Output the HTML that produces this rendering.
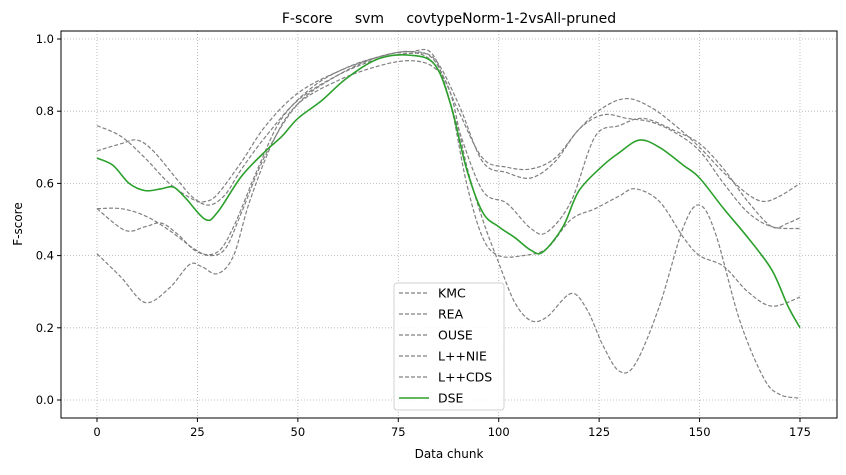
<!DOCTYPE html>
<html><head><meta charset="utf-8"><style>
body{margin:0;background:#fff;font-family:"Liberation Sans","DejaVu Sans",sans-serif}
svg text{font-family:"DejaVu Sans","Liberation Sans",sans-serif}
</style></head><body>
<svg id="c" width="846" height="470" xmlns="http://www.w3.org/2000/svg"></svg>
<script>
const xTicks=[0,25,50,75,100,125,150,175];
const yTicks=[0.0,0.2,0.4,0.6,0.8,1.0];
const seriesNames=["KMC","REA","OUSE","L++NIE","L++CDS","DSE"];
const kmcX=[0,6,12,18,24,27,30,36,42,50,60,70,78,84,90,96,102,108,114,120,126,132,138,144,150,156,162,166,170,175];
const kmcY=[0.76,0.73,0.67,0.60,0.555,0.55,0.57,0.66,0.76,0.85,0.91,0.95,0.965,0.94,0.80,0.67,0.645,0.64,0.67,0.75,0.81,0.835,0.81,0.76,0.70,0.63,0.57,0.55,0.565,0.60];
const reaX=[0,6,10,14,20,24,28,32,36,42,50,60,70,78,84,90,96,102,108,114,120,126,132,138,144,150,156,162,168,175];
const reaY=[0.69,0.71,0.72,0.69,0.61,0.56,0.54,0.57,0.64,0.73,0.83,0.90,0.945,0.96,0.945,0.82,0.66,0.63,0.615,0.66,0.75,0.79,0.78,0.77,0.74,0.69,0.60,0.52,0.48,0.475];
const ouseX=[0,6,12,18,24,28,32,36,42,50,60,70,78,84,90,96,102,108,112,118,124,130,136,144,150,156,162,168,172,175];
const ouseY=[0.53,0.53,0.51,0.47,0.42,0.40,0.42,0.52,0.68,0.82,0.90,0.95,0.965,0.95,0.75,0.58,0.545,0.475,0.465,0.55,0.73,0.76,0.78,0.745,0.71,0.64,0.55,0.48,0.49,0.505];
const nieX=[0,7,12,16,20,25,30,34,40,46,54,62,70,78,84,88,92,96,100,106,112,118,124,130,134,140,146,150,156,162,168,175];
const nieY=[0.53,0.47,0.48,0.49,0.46,0.41,0.41,0.48,0.64,0.78,0.87,0.92,0.95,0.965,0.93,0.82,0.60,0.45,0.40,0.40,0.42,0.50,0.53,0.565,0.585,0.55,0.45,0.40,0.37,0.30,0.26,0.285];
const cdsX=[0,6,12,18,23,26,30,34,38,44,50,60,70,78,84,88,92,96,100,104,108,112,118,122,126,130,134,140,146,150,154,160,166,170,175];
const cdsY=[0.405,0.34,0.27,0.31,0.375,0.37,0.35,0.40,0.55,0.72,0.82,0.885,0.925,0.94,0.92,0.85,0.65,0.50,0.38,0.27,0.22,0.23,0.295,0.25,0.15,0.08,0.10,0.26,0.48,0.54,0.46,0.22,0.06,0.015,0.005];
const dseX=[0,4,8,12,16,19,22,27,30,36,42,46,50,56,62,70,78,84,88,92,96,100,104,108,111,116,120,126,130,135,140,146,150,156,162,168,172,175];
const dseY=[0.67,0.65,0.60,0.58,0.585,0.59,0.56,0.50,0.52,0.62,0.69,0.73,0.78,0.83,0.89,0.945,0.955,0.93,0.82,0.64,0.52,0.48,0.45,0.415,0.41,0.48,0.58,0.65,0.685,0.72,0.70,0.65,0.615,0.53,0.45,0.36,0.26,0.20];

const NS="http://www.w3.org/2000/svg",svg=document.getElementById('c');
const L=61,R=837,T=31,B=418;
const sx=v=>97+v*(703/175);
const sy=v=>400-v*361;
function mk(tag,at,parent){const e=document.createElementNS(NS,tag);for(const k in at)e.setAttribute(k,at[k]);(parent||svg).appendChild(e);return e;}
function path(xs,ys){const p=xs.map((x,i)=>[sx(x),sy(ys[i])]);let d=`M${p[0][0]},${p[0][1]}`;
for(let i=0;i<p.length-1;i++){const p0=p[Math.max(0,i-1)],p1=p[i],p2=p[i+1],p3=p[Math.min(p.length-1,i+2)];
const c1=[p1[0]+(p2[0]-p0[0])/6,p1[1]+(p2[1]-p0[1])/6],c2=[p2[0]-(p3[0]-p1[0])/6,p2[1]-(p3[1]-p1[1])/6];
d+=`C${c1[0]},${c1[1]} ${c2[0]},${c2[1]} ${p2[0]},${p2[1]}`;}return d;}
xTicks.forEach(v=>{const g=mk('line',{x1:sx(v),x2:sx(v),y1:T,y2:B,stroke:'#b0b0b0','stroke-width':0.8,'stroke-dasharray':'1,2'});

const t=mk('line',{x1:sx(v),x2:sx(v),y1:B,y2:B+4,stroke:'#000'});
const l=mk('text',{x:sx(v),y:B+18,'font-size':11.5,'text-anchor':'middle'});l.textContent=v;
});
yTicks.forEach(v=>{const g=mk('line',{x1:L,x2:R,y1:sy(v),y2:sy(v),stroke:'#b0b0b0','stroke-width':0.8,'stroke-dasharray':'1,2'});

const t=mk('line',{x1:L-4,x2:L,y1:sy(v),y2:sy(v),stroke:'#000'});
const l=mk('text',{x:L-7,y:sy(v)+4,'font-size':11.5,'text-anchor':'end'});l.textContent=v.toFixed(1);
});
const gx=[kmcX,reaX,ouseX,nieX,cdsX],gy=[kmcY,reaY,ouseY,nieY,cdsY];
gx.forEach((xs,i)=>{const p=mk('path',{d:path(xs,gy[i]),fill:'none',stroke:'#808080','stroke-width':1.2,'stroke-dasharray':'4,2'});
});
const dp=mk('path',{d:path(dseX,dseY),fill:'none',stroke:'#2ca02c','stroke-width':1.6});

const fr=mk('rect',{x:L,y:T,width:R-L,height:B-T,fill:'none',stroke:'#000','stroke-width':1});

const lg=mk('g',{});
mk('rect',{x:394,y:283,width:110,height:127,rx:3,fill:'#fff','fill-opacity':0.85,stroke:'#d0d0d0'},lg);
seriesNames.forEach((n,i)=>{const y=293+i*21;const e=mk('g',{},lg);

const dse=i===5;mk('line',{x1:399,x2:429,y1:y,y2:y,stroke:dse?'#2ca02c':'#808080','stroke-width':dse?1.6:1.2,'stroke-dasharray':dse?'none':'4,2'},e);
const t=mk('text',{x:438,y:y+4.5,'font-size':12.5},e);t.textContent=n;});
const tt=mk('text',{x:449,y:23,'font-size':14,'text-anchor':'middle'});tt.textContent='F-score\u00a0\u00a0\u00a0\u00a0\u00a0svm\u00a0\u00a0\u00a0\u00a0\u00a0covtypeNorm-1-2vsAll-pruned';

const xl=mk('text',{x:449,y:458,'font-size':12,'text-anchor':'middle'});xl.textContent='Data chunk';

const yl=mk('text',{x:22,y:224,'font-size':12,'text-anchor':'middle',transform:'rotate(-90 22 224)'});yl.textContent='F-score';

</script>
</body></html>
